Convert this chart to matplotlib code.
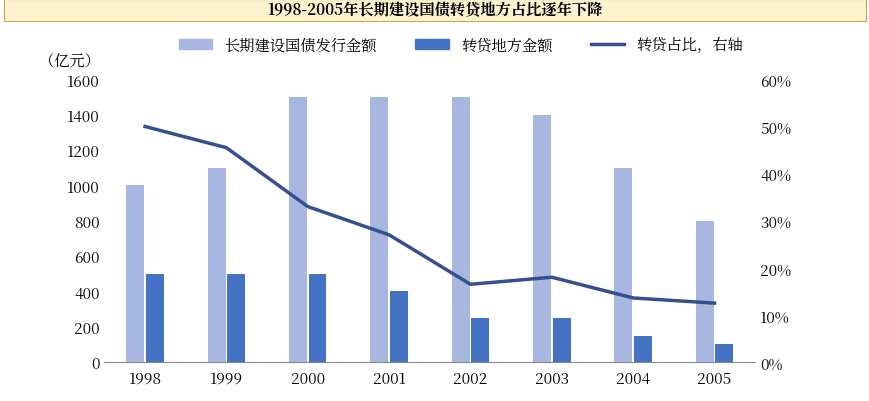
import matplotlib
matplotlib.use("Agg")
import matplotlib.pyplot as plt
from matplotlib import font_manager
from matplotlib.patches import Rectangle
from matplotlib.lines import Line2D

cjk = [f.name for f in font_manager.fontManager.ttflist if "CJK" in f.name]
cjk_name = "Noto Sans CJK SC" if "Noto Sans CJK SC" in cjk else (cjk[0] if cjk else "DejaVu Sans")
plt.rcParams["font.family"] = [cjk_name, "DejaVu Sans"]
plt.rcParams["font.sans-serif"] = [cjk_name, "DejaVu Sans"]

years = ["1998", "1999", "2000", "2001", "2002", "2003", "2004", "2005"]
issuance = [1000, 1100, 1500, 1500, 1500, 1400, 1100, 800]
local = [500, 500, 500, 400, 250, 250, 150, 100]
ratio = [50, 45.5, 33, 27, 16.5, 18, 13.6, 12.5]

c_light = "#a8b7e0"
c_dark = "#4472c4"
c_line = "#34508f"

fig = plt.figure(figsize=(8.70, 4.02), dpi=100)
fig.patches.append(Rectangle((0.005, 0.945), 0.99, 0.055, transform=fig.transFigure,
                             facecolor="#fdf3d0", edgecolor="#c9a94a", lw=0.8))
fig.text(0.5, 0.972, "1998-2005年长期建设国债转贷地方占比逐年下降", ha="center", va="center",
         fontsize=11, fontweight="bold", family=cjk_name)

ax = fig.add_axes([0.12, 0.097, 0.748, 0.703])
x = range(len(years))
w = 0.22
ax.bar([i - 0.12 for i in x], issuance, w, color=c_light)
ax.bar([i + 0.12 for i in x], local, w, color=c_dark)
ax.set_ylim(0, 1600)
ax.set_yticks(range(0, 1601, 200))
ax.set_xticks(list(x))
ax.set_xticklabels(years)
ax.set_xlim(-0.5, 7.5)
for s in ["top", "right", "left"]:
    ax.spines[s].set_visible(False)
ax.spines["bottom"].set_color("#888888")
ax.tick_params(axis="y", length=0, labelsize=11)
ax.tick_params(axis="x", length=0, labelsize=11, pad=6)

ax2 = ax.twinx()
ax2.plot(list(x), ratio, color=c_line, lw=2.5)
ax2.set_ylim(0, 60)
ax2.set_yticks(range(0, 61, 10))
ax2.set_yticklabels([f"{v}%" for v in range(0, 61, 10)])
for s in ["top", "right", "left", "bottom"]:
    ax2.spines[s].set_visible(False)
ax2.tick_params(axis="y", length=0, labelsize=11)

fig.text(0.045, 0.845, "（亿元）", fontsize=11, va="center", family=cjk_name)
handles = [Rectangle((0, 0), 1, 1, color=c_light), Rectangle((0, 0), 1, 1, color=c_dark),
           Line2D([], [], color=c_line, lw=2.5)]
fig.legend(handles, ["长期建设国债发行金额", "转贷地方金额", "转贷占比，右轴"], loc="center",
           bbox_to_anchor=(0.53, 0.885), ncol=3, frameon=False,
           prop={"family": cjk_name, "size": 11},
           handlelength=2.2, columnspacing=2.5)
fig.savefig("out.png")
